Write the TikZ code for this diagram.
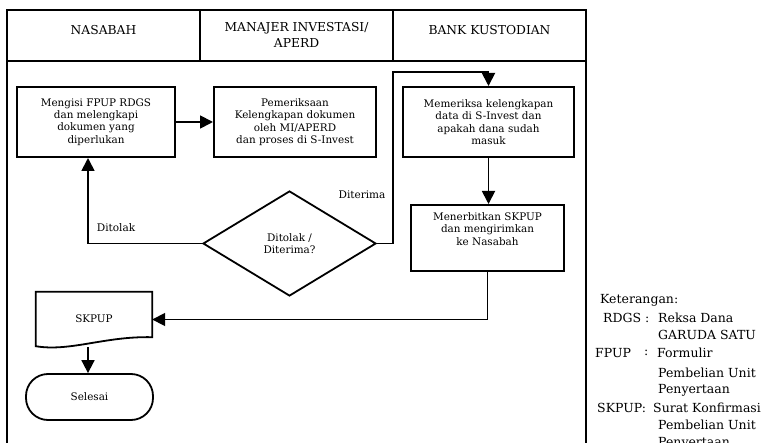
\documentclass[tikz,border=0pt]{standalone}
\usepackage{fontspec}
\setmainfont{DejaVu Serif}
\usetikzlibrary{arrows.meta,shapes.geometric,calc}
\begin{document}
\begin{tikzpicture}[x=1pt,y=-1pt,
  frame/.style={line width=1.5pt},
  box/.style={draw,line width=2pt,align=center,inner sep=0pt,
    font=\fontsize{10.4}{12.3}\selectfont},
  hdr/.style={align=center,inner sep=0pt,font=\fontsize{12.3}{16}\selectfont},
  lbl/.style={inner sep=0pt,font=\fontsize{10.5}{12}\selectfont},
  leg/.style={anchor=west,inner sep=0pt,font=\fontsize{12.5}{18}\selectfont},
  ln/.style={line width=1.8pt},
  arr/.style={line width=1.8pt,-{Triangle[length=13pt,width=13pt]}}]
\clip (0,0) rectangle (767,443);
\fill[white] (0,0) rectangle (767,443);
% frame
\draw[frame] (7,460) -- (7,10) -- (586,10) -- (586,460);
\draw[frame] (7,61) -- (586,61);
\draw[frame] (200,10) -- (200,61);
\draw[frame] (393,10) -- (393,61);
\node[hdr] (h1) at (103.5,30) {NASABAH};
\node[hdr,anchor=north] (h2) at (296.5,22) {MANAJER INVESTASI/\\APERD};
\node[hdr] (h3) at (489.5,30) {BANK KUSTODIAN};
% boxes
\node[box,minimum width=158pt,minimum height=70pt] (b1) at (96,122)
  {Mengisi FPUP RDGS\\dan melengkapi\\dokumen yang\\diperlukan};
\node[box,minimum width=162pt,minimum height=70pt] (b2) at (295,122)
  {Pemeriksaan\\Kelengkapan dokumen\\oleh MI/APERD\\dan proses di S-Invest};
\node[box,minimum width=171pt,minimum height=70pt] (b3) at (488.5,122)
  {Memeriksa kelengkapan\\data di S-Invest dan\\apakah dana sudah\\masuk};
\node[box,minimum width=153pt,minimum height=66pt] (b4) at (487.5,238)
  {Menerbitkan SKPUP\\dan mengirimkan\\ke Nasabah\\[6pt]};
\node[draw,diamond,line width=1.8pt,minimum width=173pt,minimum height=105pt,
  inner sep=0pt,align=center,font=\fontsize{10.4}{12}\selectfont] (dia) at (289.5,243.5)
  {Ditolak /\\Diterima?};
% document shape
\node[minimum width=116pt,minimum height=55pt,inner sep=0pt,
  font=\fontsize{10.4}{12}\selectfont] (doc) at (94,319.5) {\raisebox{1pt}{SKPUP}};
\draw[ln,line join=miter] (doc.south west) -- (doc.north west) -- (doc.north east)
  -- ($(doc.south east)+(0,-10)$)
  .. controls (105,336) and (70,352) .. ($(doc.south west)+(0,-1)$) -- cycle;
\node[draw,line width=1.8pt,rounded corners=22pt,minimum width=127pt,
  minimum height=46pt,inner sep=0pt,font=\fontsize{10.4}{12}\selectfont] (sel) at (89.5,397) {Selesai};
\coordinate (docout) at (88,347);
% connectors
\draw[arr] (b1.east) -- (b2.west);
\draw[arr] (dia.east) -- (393,243.5) -- (393,72) -| (b3.north);
\draw[arr] (b3.south) -- (b3.south |- b4.north);
\draw[arr] (dia.west) -| ($(b1.south)+(-8,0)$);
\draw[arr] (b4.south) |- (doc.east);
\draw[arr] (docout) -- (sel.north -| docout);
% labels
\node[lbl] (ltol) at (116,228) {Ditolak};
\node[lbl] (lter) at (362,195) {Diterima};
% legend
\node[leg] (k0) at (600,300) {Keterangan:};
\node[leg] (k1) at (603,318) {RDGS :};
\node[leg] (k1b) at (658,318) {Reksa Dana};
\node[leg] (k2) at (658,335) {GARUDA SATU};
\node[leg] (k3) at (595,353) {FPUP};
\node[leg] (k3c) at (644,353) {:};
\node[leg] (k3b) at (657,353) {Formulir};
\node[leg] (k4) at (658,373) {Pembelian Unit};
\node[leg] (k5) at (658,390) {Penyertaan};
\node[leg] (k6) at (597,408) {SKPUP:};
\node[leg] (k6b) at (653,408) {Surat Konfirmasi};
\node[leg] (k7) at (658,425) {Pembelian Unit};
\node[leg] (k8) at (658,443) {Penyertaan};
\end{tikzpicture}
\end{document}
